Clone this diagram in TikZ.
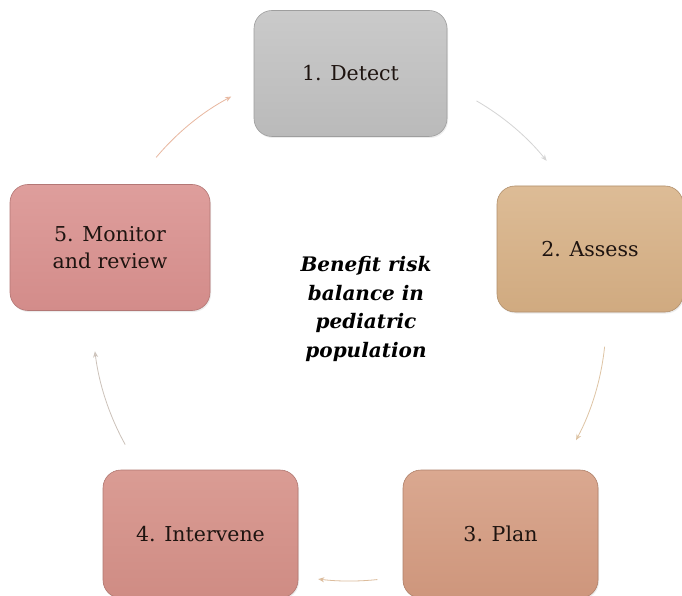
\documentclass[tikz,border=0pt]{standalone}
\usepackage{fontspec}
\setmainfont{DejaVu Serif}
\usetikzlibrary{shadows,arrows.meta,calc}
\definecolor{g1t}{HTML}{CACACA}\definecolor{g1b}{HTML}{BABABA}
\definecolor{t2t}{HTML}{DDBC96}\definecolor{t2b}{HTML}{D0AA80}
\definecolor{p3t}{HTML}{DAA890}\definecolor{p3b}{HTML}{CE967C}
\definecolor{r4t}{HTML}{DA9C94}\definecolor{r4b}{HTML}{CF8C84}
\definecolor{r5t}{HTML}{DE9E9C}\definecolor{r5b}{HTML}{D38C8A}
\definecolor{txt}{HTML}{1E1410}
\tikzset{
  stagebox/.style={rounded corners=18pt, minimum height=126pt, align=center,
    font=\fontsize{20.5}{27}\selectfont, text=txt, line width=0.6pt,
    drop shadow={opacity=0.15, shadow xshift=1pt, shadow yshift=-1.5pt}},
  cyc/.style={line width=0.8pt, -{Stealth[length=6pt,width=5pt,open]}}
}
\begin{document}
\begin{tikzpicture}[x=1pt,y=1pt]
\useasboundingbox (0,0) rectangle (682,595);
\fill[white] (0,0) rectangle (682,595);
\coordinate (c) at (350,275);
\begin{scope}
\clip (0,0) rectangle (682,595);
\node[stagebox, minimum width=193pt, top color=g1t, bottom color=g1b, draw=g1b!85!black] (n1) at (350.5,521.5) {1. Detect};
\node[stagebox, minimum width=186pt, top color=t2t, bottom color=t2b, draw=t2b!85!black] (n2) at (590,346) {2. Assess};
\node[stagebox, minimum width=195pt, minimum height=128pt, top color=p3t, bottom color=p3b, draw=p3b!85!black] (n3) at (500.5,61) {3. Plan};
\node[stagebox, minimum width=195pt, minimum height=128pt, top color=r4t, bottom color=r4b, draw=r4b!85!black] (n4) at (200.5,61) {4. Intervene};
\node[stagebox, minimum width=200pt, top color=r5t, bottom color=r5b, draw=r5b!85!black] (n5) at (110,347.5) {5. Monitor\\and review};
\end{scope}
\node[font=\fontsize{20}{28.5}\selectfont\bfseries\itshape, align=center, text=black] (ctr) at (366,286) {Benefit risk\\balance in\\pediatric\\population};
\coordinate (s51) at ($(c)+(140:253)$);
\coordinate (s12) at ($(c)+(60:253)$);
\coordinate (s23) at ($(c)+(-6:256)$);
\coordinate (s34) at ($(c)+(-84:261)$);
\coordinate (s45) at ($(c)+(209:257)$);
\draw[cyc, color={rgb,255:red,232;green,184;blue,160}] (s51) arc[start angle=140, end angle=118, radius=253];
\draw[cyc, color={rgb,255:red,212;green,212;blue,212}] (s12) arc[start angle=60, end angle=39, radius=253];
\draw[cyc, color={rgb,255:red,222;green,196;blue,164}] (s23) arc[start angle=-6, end angle=-28, radius=256];
\draw[cyc, color={rgb,255:red,220;green,188;blue,156}] (s34) arc[start angle=-84, end angle=-97, radius=261];
\draw[cyc, color={rgb,255:red,204;green,194;blue,186}] (s45) arc[start angle=209, end angle=187, radius=257];
\end{tikzpicture}
\end{document}
